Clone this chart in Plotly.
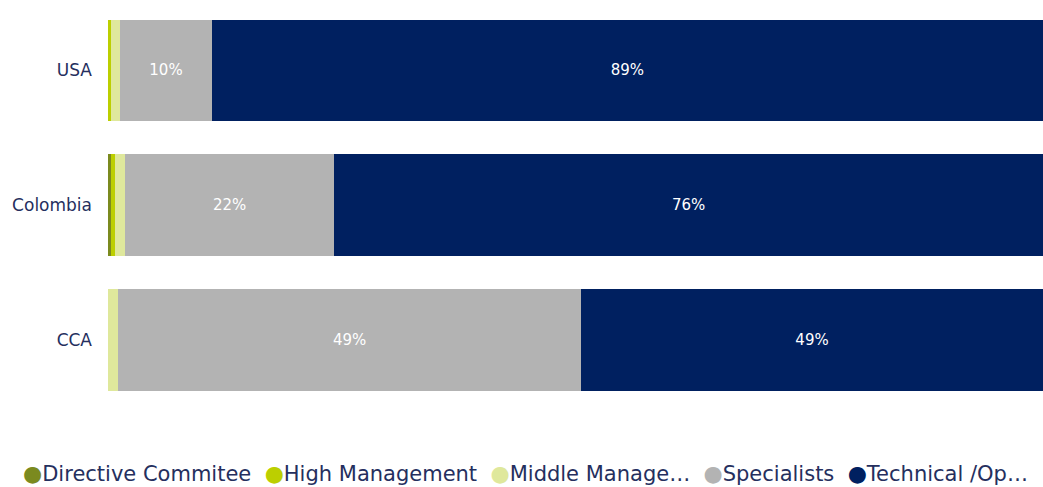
import plotly.graph_objects as go

countries = ["USA", "Colombia", "CCA"]
series_names = ["Directive Commitee", "High Management", "Middle Manage…", "Specialists", "Technical /Op…"]
directive = [0.0, 0.35, 0.0]
high_mgmt = [0.3, 0.45, 0.0]
middle_mgmt = [1.0, 1.0, 1.1]
specialists = [9.8, 22.4, 49.49]
technical = [88.9, 75.8, 49.41]
colors = ["#7b8a1f", "#bccf00", "#dfe89c", "#b3b3b3", "#002060"]

values = [directive, high_mgmt, middle_mgmt, specialists, technical]
FONT = "DejaVu Sans"
TEXT_COLOR = "#252f5e"

fig = go.Figure()
for name, vals, col in zip(series_names, values, colors):
    labels = [f"{round(v)}%" if v >= 5 else "" for v in vals]
    fig.add_trace(go.Bar(
        y=countries, x=vals, name=name, orientation="h",
        marker=dict(color=col, line=dict(width=0)),
        text=labels, textposition="inside", insidetextanchor="middle",
        textfont=dict(color="white", size=15, family=FONT),
        showlegend=False,
    ))

legend_parts = []
for name, col in zip(series_names, colors):
    legend_parts.append(f"<span style='color:{col};font-size:22px'>●</span>{name}")
legend_text = "&nbsp;&nbsp;".join(legend_parts)

fig.add_annotation(
    text=legend_text, xref="paper", yref="paper", x=0.446, y=-0.165,
    xanchor="center", yanchor="middle", showarrow=False,
    font=dict(size=21, color=TEXT_COLOR, family=FONT),
)

fig.update_layout(
    barmode="stack",
    bargap=0.245,
    width=1043, height=487,
    margin=dict(l=108, r=0, t=3, b=80),
    plot_bgcolor="white", paper_bgcolor="white",
    xaxis=dict(range=[0, 100], visible=False, fixedrange=True),
    yaxis=dict(autorange="reversed", showgrid=False, showline=False,
               ticks="", ticklabelstandoff=15, fixedrange=True,
               tickfont=dict(size=17, color=TEXT_COLOR, family=FONT)),
)

fig.write_html("out.html", config={"displayModeBar": False},
               post_script="document.body.style.margin='0';")
